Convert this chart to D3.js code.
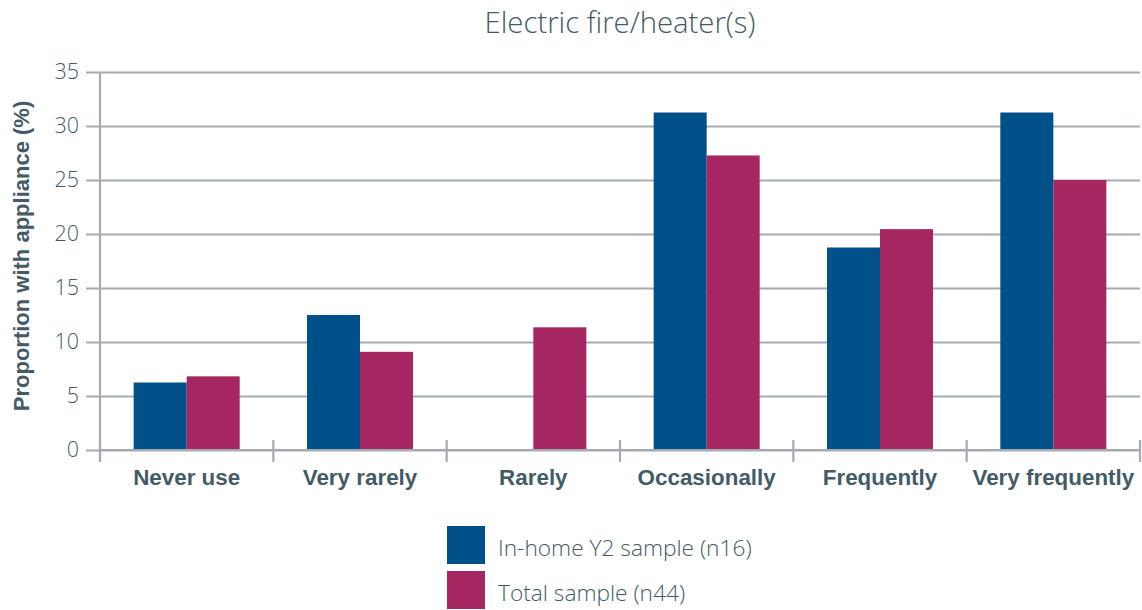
<!DOCTYPE html>
<html>
<head>
<meta charset="utf-8">
<script src="https://cdn.jsdelivr.net/npm/d3@7"></script>
<style>
  html, body { margin: 0; padding: 0; background: #fff; }
  svg { display: block; }
</style>
</head>
<body>
<svg id="chart" width="1142" height="610"></svg>
<script>
// Usage frequency categories and the share (%) of each sample owning the appliance
const categories = ["Never use", "Very rarely", "Rarely", "Occasionally", "Frequently", "Very frequently"];
const inHomeY2 = [6.25, 12.5, 0, 31.25, 18.75, 31.25];
const totalSample = [6.82, 9.09, 11.36, 27.27, 20.45, 25.0];
const seriesNames = ["In-home Y2 sample (n16)", "Total sample (n44)"];
const seriesColors = ["#00508a", "#a52660"];
const yTicks = [0, 5, 10, 15, 20, 25, 30, 35];
const chartTitle = "Electric fire/heater(s)";
const yTitle = "Proportion with appliance (%)";

const svg = d3.select("#chart");
const plotLeft = 100, plotRight = 1140, plotTop = 72, plotBottom = 450;
const gridColor = "#a5abb0";
const textColor = "#435b66";
const lightFont = "'Open Sans', 'Liberation Sans', sans-serif";
const boldFont = "'Liberation Sans', Arial, sans-serif";

const x = d3.scaleBand().domain(categories).range([plotLeft, plotRight]).paddingInner(0).paddingOuter(0);
const inner = d3.scaleBand().domain([0, 1]).range([0, x.bandwidth()]).paddingOuter(0.635).paddingInner(0);
const y = d3.scaleLinear().domain([0, 35]).range([plotBottom, plotTop]);

// Horizontal gridlines with short ticks to the left of the axis
const yAxis = d3.axisLeft(y).tickValues(yTicks).tickSize(-(plotRight - plotLeft) - 14).tickPadding(7);
const gy = svg.append("g").attr("transform", `translate(${plotLeft - 14},0)`).call(yAxis);
gy.select(".domain").remove();
gy.selectAll(".tick line").attr("stroke", gridColor).attr("stroke-width", 2.2);
gy.selectAll(".tick text")
  .attr("fill", textColor)
  .style("font-family", lightFont)
  .style("font-weight", 300)
  .style("font-size", "21.5px");

// Vertical axis line
svg.append("line")
  .attr("x1", plotLeft).attr("x2", plotLeft)
  .attr("y1", plotTop).attr("y2", plotBottom + 12)
  .attr("stroke", gridColor).attr("stroke-width", 2.2);

// Bars
const series = [inHomeY2, totalSample];
series.forEach((vals, si) => {
  svg.append("g").selectAll("rect")
    .data(categories.map((c, i) => ({ c, v: vals[i] })))
    .join("rect")
    .attr("x", d => x(d.c) + inner(si))
    .attr("width", inner.bandwidth())
    .attr("y", d => y(d.v))
    .attr("height", d => y(0) - y(d.v))
    .attr("fill", seriesColors[si]);
});

// Category axis with boundary ticks
const xb = svg.append("g");
xb.append("line")
  .attr("x1", plotLeft).attr("x2", plotRight)
  .attr("y1", plotBottom).attr("y2", plotBottom)
  .attr("stroke", gridColor).attr("stroke-width", 2.2);
const bounds = categories.map(c => x(c)).concat([plotRight]);
xb.selectAll("line.tk").data(bounds).join("line")
  .attr("class", "tk")
  .attr("x1", d => d).attr("x2", d => d)
  .attr("y1", plotBottom - 10).attr("y2", plotBottom + 12)
  .attr("stroke", gridColor).attr("stroke-width", 2.2);
xb.selectAll("text").data(categories).join("text")
  .attr("x", d => x(d) + x.bandwidth() / 2)
  .attr("y", plotBottom + 35)
  .attr("text-anchor", "middle")
  .attr("fill", textColor)
  .style("font-family", boldFont)
  .style("font-weight", 700)
  .style("font-size", "22.4px")
  .text(d => d);

// Title
svg.append("text")
  .attr("x", 620).attr("y", 33)
  .attr("text-anchor", "middle")
  .attr("fill", textColor)
  .style("font-family", lightFont)
  .style("font-weight", 300)
  .style("font-size", "29.3px")
  .text(chartTitle);

// Y-axis title
svg.append("text")
  .attr("transform", `translate(29,${(plotTop + plotBottom) / 2 - 5}) rotate(-90)`)
  .attr("text-anchor", "middle")
  .attr("fill", textColor)
  .style("font-family", boldFont)
  .style("font-weight", 700)
  .style("font-size", "22px")
  .text(yTitle);

// Legend
const lg = svg.append("g").selectAll("g").data(seriesNames).join("g")
  .attr("transform", (d, i) => `translate(447,${526 + i * 45})`);
lg.append("rect").attr("width", 38).attr("height", 38).attr("fill", (d, i) => seriesColors[i]);
lg.append("text")
  .attr("x", 51).attr("y", 30)
  .attr("fill", textColor)
  .style("font-family", lightFont)
  .style("font-weight", 300)
  .style("font-size", "22.7px")
  .text(d => d);
</script>
</body>
</html>
